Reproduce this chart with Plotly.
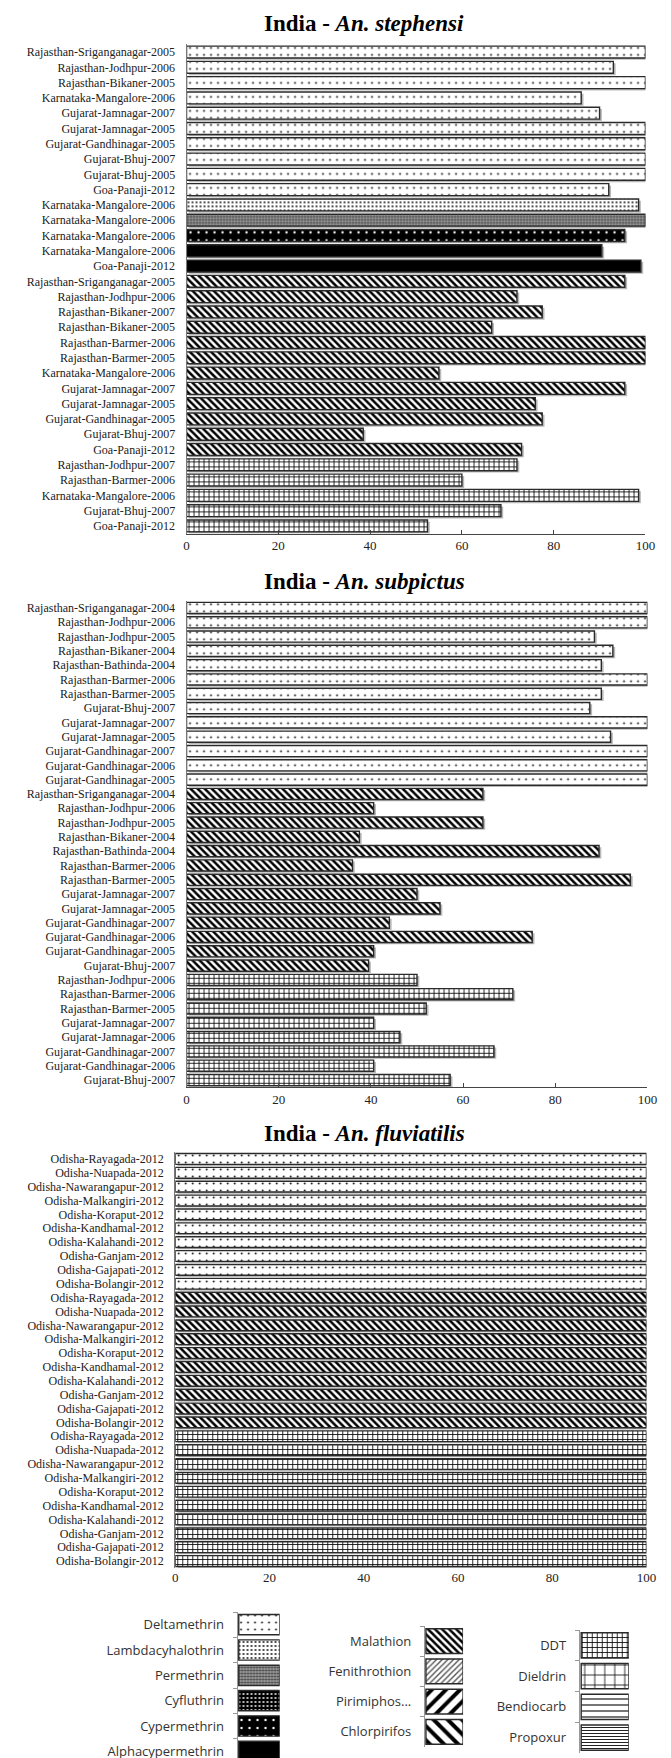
import plotly.graph_objects as go

W, H = 671, 1758

# ---------------- data ----------------
TITLES = ["India - <i>An. stephensi</i>", "India - <i>An. subpictus</i>", "India - <i>An. fluviatilis</i>"]

STEPH_SITES = [
    "Rajasthan-Sriganganagar-2005", "Rajasthan-Jodhpur-2006", "Rajasthan-Bikaner-2005",
    "Karnataka-Mangalore-2006", "Gujarat-Jamnagar-2007", "Gujarat-Jamnagar-2005",
    "Gujarat-Gandhinagar-2005", "Gujarat-Bhuj-2007", "Gujarat-Bhuj-2005", "Goa-Panaji-2012",
    "Karnataka-Mangalore-2006", "Karnataka-Mangalore-2006", "Karnataka-Mangalore-2006",
    "Karnataka-Mangalore-2006", "Goa-Panaji-2012",
    "Rajasthan-Sriganganagar-2005", "Rajasthan-Jodhpur-2006", "Rajasthan-Bikaner-2007",
    "Rajasthan-Bikaner-2005", "Rajasthan-Barmer-2006", "Rajasthan-Barmer-2005",
    "Karnataka-Mangalore-2006", "Gujarat-Jamnagar-2007", "Gujarat-Jamnagar-2005",
    "Gujarat-Gandhinagar-2005", "Gujarat-Bhuj-2007", "Goa-Panaji-2012",
    "Rajasthan-Jodhpur-2007", "Rajasthan-Barmer-2006", "Karnataka-Mangalore-2006",
    "Gujarat-Bhuj-2007", "Goa-Panaji-2012",
]
STEPH_INSECT = (["Deltamethrin"] * 10 + ["Lambdacyhalothrin", "Permethrin", "Cypermethrin",
                 "Alphacypermethrin", "Alphacypermethrin"] + ["Malathion"] * 12 + ["DDT"] * 5)
STEPH_MORT = [100, 93, 100, 86, 90, 100, 100, 100, 100, 92,
              98.5, 100, 95.5, 90.5, 99,
              95.5, 72, 77.5, 66.5, 100, 100, 55, 95.5, 76, 77.5, 38.5, 73,
              72, 60, 98.5, 68.5, 52.5]

SUBP_SITES = [
    "Rajasthan-Sriganganagar-2004", "Rajasthan-Jodhpur-2006", "Rajasthan-Jodhpur-2005",
    "Rajasthan-Bikaner-2004", "Rajasthan-Bathinda-2004", "Rajasthan-Barmer-2006",
    "Rajasthan-Barmer-2005", "Gujarat-Bhuj-2007", "Gujarat-Jamnagar-2007",
    "Gujarat-Jamnagar-2005", "Gujarat-Gandhinagar-2007", "Gujarat-Gandhinagar-2006",
    "Gujarat-Gandhinagar-2005",
    "Rajasthan-Sriganganagar-2004", "Rajasthan-Jodhpur-2006", "Rajasthan-Jodhpur-2005",
    "Rajasthan-Bikaner-2004", "Rajasthan-Bathinda-2004", "Rajasthan-Barmer-2006",
    "Rajasthan-Barmer-2005", "Gujarat-Jamnagar-2007", "Gujarat-Jamnagar-2005",
    "Gujarat-Gandhinagar-2007", "Gujarat-Gandhinagar-2006", "Gujarat-Gandhinagar-2005",
    "Gujarat-Bhuj-2007",
    "Rajasthan-Jodhpur-2006", "Rajasthan-Barmer-2006", "Rajasthan-Barmer-2005",
    "Gujarat-Jamnagar-2007", "Gujarat-Jamnagar-2006", "Gujarat-Gandhinagar-2007",
    "Gujarat-Gandhinagar-2006", "Gujarat-Bhuj-2007",
]
SUBP_INSECT = ["Deltamethrin"] * 13 + ["Malathion"] * 13 + ["DDT"] * 8
SUBP_MORT = [100, 100, 88.5, 92.5, 90, 100, 90, 87.5, 100, 92, 100, 100, 100,
             64.3, 40.6, 64.3, 37.5, 89.5, 36, 96.3, 50, 55, 44, 75, 40.6, 39.5,
             50, 70.8, 52, 40.6, 46.3, 66.7, 40.6, 57.2]

ODISHA = ["Odisha-Rayagada-2012", "Odisha-Nuapada-2012", "Odisha-Nawarangapur-2012",
          "Odisha-Malkangiri-2012", "Odisha-Koraput-2012", "Odisha-Kandhamal-2012",
          "Odisha-Kalahandi-2012", "Odisha-Ganjam-2012", "Odisha-Gajapati-2012",
          "Odisha-Bolangir-2012"]
FLUV_SITES = ODISHA * 3
FLUV_INSECT = ["Deltamethrin"] * 10 + ["Malathion"] * 10 + ["DDT"] * 10
FLUV_MORT = [100] * 10 + [100] * 10 + [100] * 10

X_TICKS = [0, 20, 40, 60, 80, 100]

LEGEND_GROUPS = [
    ["Deltamethrin", "Lambdacyhalothrin", "Permethrin", "Cyfluthrin", "Cypermethrin",
     "Alphacypermethrin"],
    ["Malathion", "Fenithrothion", "Pirimiphos...", "Chlorpirifos"],
    ["DDT", "Dieldrin", "Bendiocarb", "Propoxur"],
]
SWATCH = 1

# ---------------- styles ----------------
PAT = {
    "Deltamethrin": dict(bg="white", fg="black", shape=".", size=7, sol=0.05),
    "Lambdacyhalothrin": dict(bg="white", fg="black", shape=".", size=4, sol=0.16),
    "Permethrin": dict(bg="#9a9a9a", fg="#3a3a3a", shape=".", size=3, sol=0.4),
    "Cyfluthrin": dict(bg="black", fg="white", shape=".", size=4, sol=0.18),
    "Cypermethrin": dict(bg="black", fg="white", shape=".", size=8, sol=0.07),
    "Alphacypermethrin": dict(bg="black", fg="black", shape="", size=8, sol=0.3),
    "Malathion": dict(bg="white", fg="black", shape="\\", size=5, sol=0.5),
    "Fenithrothion": dict(bg="white", fg="#555", shape="/", size=4, sol=0.35),
    "Pirimiphos...": dict(bg="white", fg="black", shape="/", size=10, sol=0.4),
    "Chlorpirifos": dict(bg="white", fg="black", shape="\\", size=10, sol=0.4),
    "DDT": dict(bg="white", fg="black", shape="+", size=5, sol=0.3),
    "Dieldrin": dict(bg="white", fg="black", shape="+", size=10, sol=0.15),
    "Bendiocarb": dict(bg="white", fg="black", shape="-", size=6, sol=0.18),
    "Propoxur": dict(bg="white", fg="#222", shape="-", size=3, sol=0.35),
}


def marker_for(name):
    p = PAT[name]
    return dict(
        color=p["bg"],
        line=dict(color="#2a2a2a", width=1.4),
        pattern=dict(shape=p["shape"], bgcolor=p["bg"], fgcolor=p["fg"],
                     size=p["size"], solidity=p["sol"], fillmode="replace"),
    )


def px_x(v):
    return v / W


def px_y(v):
    return 1 - v / H


fig = go.Figure()

SERIF = "Liberation Serif, Times New Roman, serif"
SANS = "Open Sans, Lato, sans-serif"
BAR_W = 0.78

panels = [
    (STEPH_SITES, STEPH_INSECT, STEPH_MORT, (179, 647), (36.4, 525.6), True, 16),
    (SUBP_SITES, SUBP_INSECT, SUBP_MORT, (179, 649), (592.8, 1079.2), True, 573),
    (FLUV_SITES, FLUV_INSECT, FLUV_MORT, (167.5, 648), (1144, 1560), False, 1125),
]

layout_axes = {}
for k, (sites, insect, mort, xd, yd, showx, title_y) in enumerate(panels, start=1):
    xa = "x" if k == 1 else f"x{k}"
    ya = "y" if k == 1 else f"y{k}"
    n = len(sites)
    rows = list(range(n))
    # soft drop shadow under every bar
    fig.add_trace(go.Bar(
        x=mort, y=rows, orientation="h", width=BAR_W, offset=-BAR_W / 2 + 0.12,
        base=0.5, marker=dict(color="rgba(0,0,0,0.28)", line=dict(width=0)),
        xaxis=xa, yaxis=ya, showlegend=False, hoverinfo="skip",
    ))
    order = []
    for nm in insect:
        if nm not in order:
            order.append(nm)
    for nm in order:
        idx = [i for i in rows if insect[i] == nm]
        fig.add_trace(go.Bar(
            x=[mort[i] for i in idx], y=idx, orientation="h", width=BAR_W,
            offset=-BAR_W / 2, marker=marker_for(nm), xaxis=xa, yaxis=ya,
            showlegend=False, name=nm,
        ))
    layout_axes["xaxis" if k == 1 else f"xaxis{k}"] = dict(
        domain=[px_x(xd[0]), px_x(xd[1])], anchor=ya, range=[0, 100],
        tickvals=X_TICKS, ticks="inside" if showx else "", ticklen=4, tickcolor="#444",
        showline=showx, linecolor="#444", linewidth=1, showgrid=False, zeroline=False,
        tickfont=dict(family=SERIF, size=13, color="#222"), fixedrange=True,
    )
    layout_axes["yaxis" if k == 1 else f"yaxis{k}"] = dict(
        domain=[px_y(yd[1]), px_y(yd[0])], anchor=xa, range=[n - 0.5, -0.5],
        tickvals=rows, ticktext=sites, ticks="", showline=True, linecolor="#777",
        linewidth=1, showgrid=False, zeroline=False, ticklabelstandoff=8,
        tickfont=dict(family=SERIF, size=12, color="#222"), fixedrange=True,
    )
    fig.add_annotation(
        text="<b>" + TITLES[k - 1] + "</b>", xref="paper", yref="paper",
        x=px_x(360), y=px_y(title_y), xanchor="center", yanchor="middle",
        showarrow=False, font=dict(family=SERIF, size=23, color="black"),
    )

# legend as small bar charts (text left, swatch right)
LEG_GEOM = [
    ((231, 274), (1604, 1756), 0.8),
    ((422, 461), (1618, 1739), 0.82),
    ((580, 630), (1622, 1745), 0.82),
]
for j, (names, (xd, yd, bw)) in enumerate(zip(LEGEND_GROUPS, LEG_GEOM)):
    k = 4 + j
    xa, ya = f"x{k}", f"y{k}"
    for nm in names:
        fig.add_trace(go.Bar(
            x=[SWATCH], y=[nm], orientation="h", width=bw, base=0,
            marker=marker_for(nm), xaxis=xa, yaxis=ya, showlegend=False, name=nm,
        ))
    layout_axes[f"xaxis{k}"] = dict(
        domain=[px_x(xd[0]), px_x(xd[1])], anchor=ya, range=[-0.03, 1.0],
        visible=False, fixedrange=True,
    )
    layout_axes[f"yaxis{k}"] = dict(
        domain=[px_y(yd[1]), px_y(yd[0])], anchor=xa, type="category",
        categoryorder="array", categoryarray=names, autorange="reversed",
        showline=True, linecolor="#999", linewidth=1, ticks="outside",
        tickson="boundaries", ticklen=4, tickcolor="#999", showgrid=False,
        ticklabelstandoff=10, tickfont=dict(family=SANS, size=13, color="#333"),
        fixedrange=True,
    )

fig.update_layout(
    width=W, height=H, margin=dict(l=0, r=0, t=0, b=0),
    paper_bgcolor="white", plot_bgcolor="white", barmode="overlay",
    showlegend=False, **layout_axes,
)

fig.write_html("out.html")
